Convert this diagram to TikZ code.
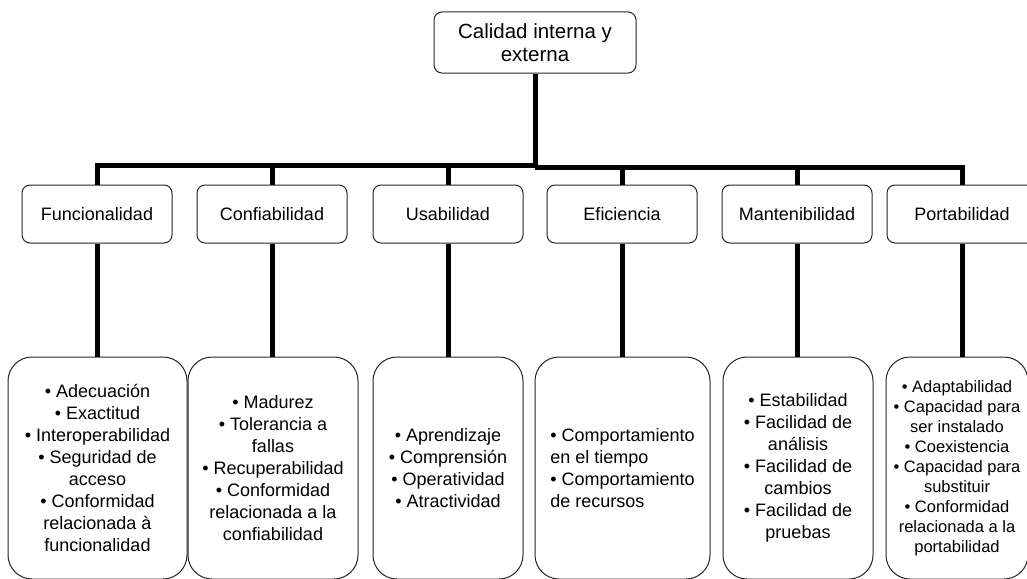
\documentclass[tikz,border=0pt]{standalone}
\usepackage{fontspec}
\setmainfont{Liberation Sans}
\usetikzlibrary{calc}
\tikzset{
	caja/.style={draw=black!85, line width=1pt, rounded corners=8pt, fill=white,
			minimum width=150pt, minimum height=58pt, inner sep=0pt,
			font=\fontsize{18}{22}\selectfont},
	lista/.style={draw=black!85, line width=1pt, rounded corners=24pt, fill=white,
			minimum height=222pt, inner sep=0pt, align=center,
			font=\fontsize{18}{22}\selectfont},
	rama/.style={line width=5pt}
}

\begin{document}
\begin{tikzpicture}[x=1pt,y=-1pt]
		\clip (0,0) rectangle (1027,578);
		% ends of the horizontal bar, on both sides of the trunk
		\coordinate (barra) at (535,165);
		\coordinate (barrab) at (535,167);

		%--- Root ---
		\node[caja, minimum width=202pt, minimum height=61pt, align=center,
			font=\fontsize{20.5}{23}\selectfont] (raiz) at (535,42.5)
			{Calidad interna y\\externa};

		%--- Characteristics ---
		\node[caja] (fun) at (97,214) {Funcionalidad};
		\node[caja] (con) at (272,214) {Confiabilidad};
		\node[caja] (usa) at (448,214) {Usabilidad};
		\node[caja] (efi) at (622,214) {Eficiencia};
		\node[caja] (man) at (797,214) {Mantenibilidad};
		\node[caja] (por) at (962,214) {Portabilidad};

		%--- Sub-characteristics ---
		\node[lista, minimum width=179pt] (lfun) at (97.5,468)
			{\textbullet{} Adecuación\\\textbullet{} Exactitud\\\textbullet{} Interoperabilidad\\
			\textbullet{} Seguridad de\\acceso\\\textbullet{} Conformidad\\relacionada à\\funcionalidad};
		\node[lista, minimum width=170pt] (lcon) at (273,468)
			{\textbullet{} Madurez\\\textbullet{} Tolerancia a\\fallas\\\textbullet{} Recuperabilidad\\
			\textbullet{} Conformidad\\relacionada a la\\confiabilidad};
		\node[lista, minimum width=150pt] (lusa) at (448,468)
			{\textbullet{} Aprendizaje\\\textbullet{} Comprensión\\\textbullet{} Operatividad\\\textbullet{} Atractividad};
		\node[lista, minimum width=175pt, align=left] (lefi) at (622.5,468)
			{\textbullet{} Comportamiento\\en el tiempo\\\textbullet{} Comportamiento\\de recursos};
		\node[lista, minimum width=150pt] (lman) at (798,468)
			{\textbullet{} Estabilidad\\\textbullet{} Facilidad de\\análisis\\\textbullet{} Facilidad de\\cambios\\
			\textbullet{} Facilidad de\\pruebas};
		\node[lista, minimum width=142pt, font=\fontsize{16.5}{20}\selectfont] (lpor) at (957,468)
			{\textbullet{} Adaptabilidad\\\textbullet{} Capacidad para\\ser instalado\\\textbullet{} Coexistencia\\
			\textbullet{} Capacidad para\\substituir\\\textbullet{} Conformidad\\relacionada a la\\portabilidad};

		%--- Tree ---
		\draw[rama] (raiz.south) -- (barrab);
		\draw[rama] (barra) -| (fun.north);
		\draw[rama] (barra) -| (con.north);
		\draw[rama] (barra) -| (usa.north);
		\draw[rama] (barrab) -| (efi.north);
		\draw[rama] (barrab) -| (man.north);
		\draw[rama] (barrab) -| (por.north);
		\draw[rama] (fun.south) -- (lfun.north -| fun.south);
		\draw[rama] (con.south) -- (lcon.north -| con.south);
		\draw[rama] (usa.south) -- (lusa.north -| usa.south);
		\draw[rama] (efi.south) -- (lefi.north -| efi.south);
		\draw[rama] (man.south) -- (lman.north -| man.south);
		\draw[rama] (por.south) -- (lpor.north -| por.south);
	\end{tikzpicture}
\end{document}
